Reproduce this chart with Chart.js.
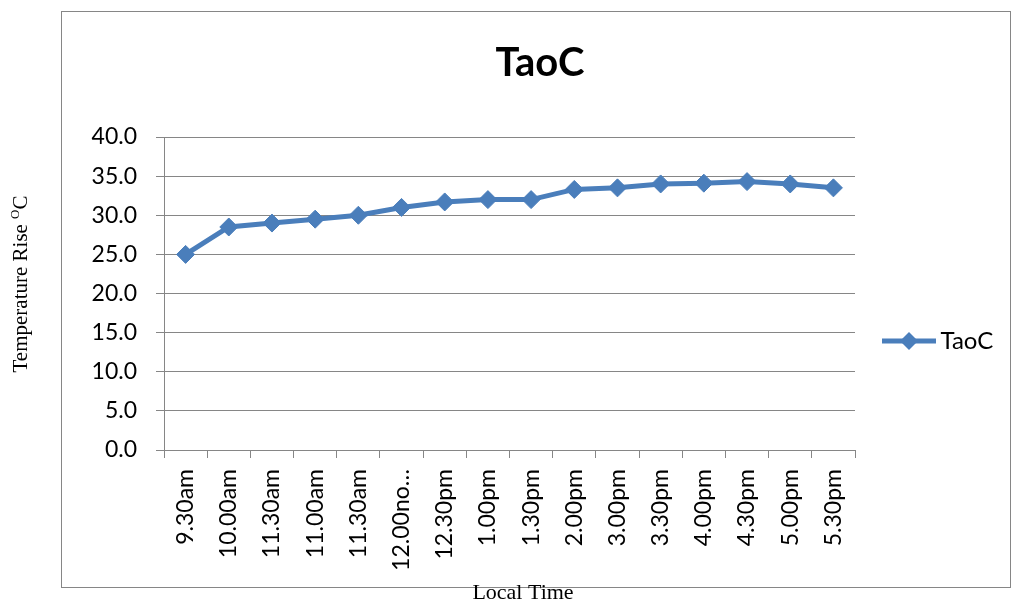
<!DOCTYPE html>
<html>
<head>
<meta charset="utf-8">
<title>TaoC</title>
<script src="https://cdn.jsdelivr.net/npm/chart.js@4/dist/chart.umd.min.js"></script>
<style>
    html, body { margin: 0; padding: 0; background: #fff; }
    #wrap { width: 1011px; height: 604px; }
</style>
</head>
<body>
<div id="wrap"><canvas id="taoChart" width="1011" height="604"></canvas></div>
<script>
// readings over the day
const timeLabels = ['9.30am', '10.00am', '11.30am', '11.00am', '11.30am', '12.00no…', '12.30pm', '1.00pm',
    '1.30pm', '2.00pm', '3.00pm', '3.30pm', '4.00pm', '4.30pm', '5.00pm', '5.30pm'];
const taoValues = [25.0, 28.5, 29.0, 29.5, 30.0, 31.0, 31.7, 32.0, 32.0, 33.3, 33.5, 34.0, 34.1, 34.3, 34.0, 33.5];
const seriesName = 'TaoC';
const yMin = 0, yMax = 40, yStep = 5;

const lineBlue = '#4A7EBB';
const axisGrey = '#868686';

Chart.defaults.font.family = 'Lato';
Chart.defaults.color = '#000';

// line + diamond used as the legend marker
function legendMarker() {
    const c = document.createElement('canvas');
    c.width = 54; c.height = 22;
    const g = c.getContext('2d');
    g.strokeStyle = lineBlue;
    g.lineWidth = 5;
    g.beginPath(); g.moveTo(0, 11); g.lineTo(54, 11); g.stroke();
    g.fillStyle = lineBlue;
    g.beginPath();
    g.moveTo(27, 2); g.lineTo(36, 11); g.lineTo(27, 20); g.lineTo(18, 11);
    g.closePath(); g.fill();
    return c;
}
const marker = legendMarker();

// outer frame plus the two captions sitting outside it
const framePlugin = {
    id: 'frameCaptions',
    afterDraw(chart) {
        const ctx = chart.ctx;
        ctx.save();
        ctx.strokeStyle = axisGrey;
        ctx.lineWidth = 1;
        ctx.strokeRect(61.5, 11.5, 949, 576);

        ctx.fillStyle = '#000';
        ctx.textBaseline = 'alphabetic';
        ctx.textAlign = 'left';

        // y caption, with a raised O
        const main = 'Temperature Rise ';
        const bigFont = '21px "Liberation Serif", "Times New Roman", serif';
        const supFont = '13px "Liberation Serif", "Times New Roman", serif';
        ctx.font = bigFont;
        const wMain = ctx.measureText(main).width;
        const wC = ctx.measureText('C').width;
        ctx.font = supFont;
        const wO = ctx.measureText('O').width;
        const total = wMain + wO + wC;
        ctx.translate(27, 284);
        ctx.rotate(-Math.PI / 2);
        let x = -total / 2;
        ctx.font = bigFont;
        ctx.fillText(main, x, 0);
        x += wMain;
        ctx.font = supFont;
        ctx.fillText('O', x, -8);
        x += wO;
        ctx.font = bigFont;
        ctx.fillText('C', x, 0);
        ctx.setTransform(1, 0, 0, 1, 0, 0);

        // x caption
        ctx.font = '22px "Liberation Serif", "Times New Roman", serif';
        ctx.textAlign = 'center';
        ctx.fillText('Local Time', 523, 599);
        ctx.restore();
    }
};

new Chart(document.getElementById('taoChart'), {
    type: 'line',
    data: {
        labels: timeLabels,
        datasets: [{
            label: seriesName,
            data: taoValues,
            borderColor: lineBlue,
            backgroundColor: lineBlue,
            borderWidth: 5,
            tension: 0,
            fill: false,
            pointStyle: 'rectRot',
            pointRadius: 9,
            pointHoverRadius: 9,
            pointBackgroundColor: lineBlue,
            pointBorderColor: lineBlue,
            pointBorderWidth: 1
        }]
    },
    options: {
        responsive: false,
        animation: false,
        devicePixelRatio: 1,
        layout: { padding: { left: 87, top: 78, right: 18, bottom: 0 } },
        plugins: {
            title: {
                display: true,
                text: seriesName,
                color: '#000',
                font: { family: 'Lato', size: 40, weight: 'bold', lineHeight: 1.2 },
                padding: { top: -39, bottom: 50 }
            },
            legend: {
                position: 'right',
                maxWidth: 138,
                labels: {
                    usePointStyle: true,
                    pointStyleWidth: 39,
                    padding: 34.5,
                    color: '#000',
                    font: { family: 'Lato', size: 24 },
                    generateLabels: (chart) =>
                        Chart.defaults.plugins.legend.labels.generateLabels(chart)
                            .map(item => ({ ...item, pointStyle: marker }))
                }
            },
            tooltip: { enabled: false }
        },
        scales: {
            x: {
                offset: true,
                grid: {
                    offset: true,
                    drawOnChartArea: false,
                    drawTicks: true,
                    tickLength: 8,
                    color: axisGrey
                },
                border: { color: axisGrey },
                ticks: {
                    autoSkip: false,
                    minRotation: 90,
                    maxRotation: 90,
                    padding: 11,
                    font: { size: 23 }
                },
                afterFit: (scale) => { scale.height = 154; }
            },
            y: {
                min: yMin,
                max: yMax,
                grid: { color: axisGrey, tickLength: 8 },
                border: { color: axisGrey },
                ticks: {
                    stepSize: yStep,
                    padding: 19,
                    font: { size: 23 },
                    callback: (v) => Number(v).toFixed(1)
                },
                afterFit: (scale) => { scale.width = 77; }
            }
        }
    },
    plugins: [framePlugin]
});
</script>
</body>
</html>
